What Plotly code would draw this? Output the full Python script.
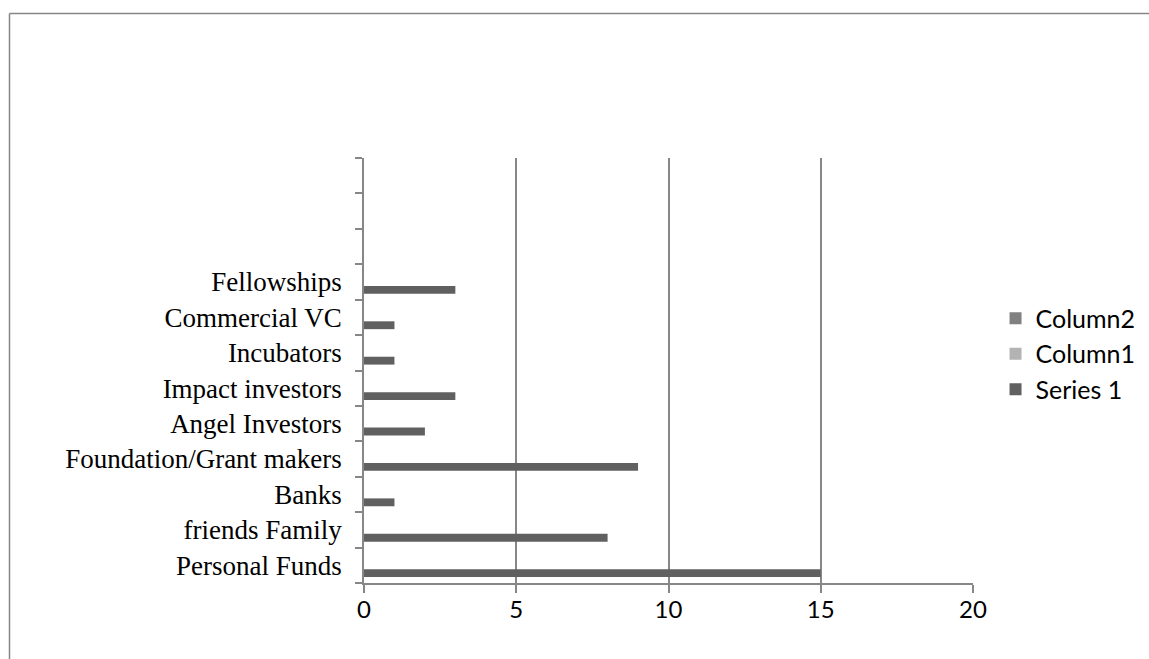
import plotly.graph_objects as go

categories = ["Personal Funds", "friends Family", "Banks", "Foundation/Grant makers",
              "Angel Investors", "Impact investors", "Incubators", "Commercial VC", "Fellowships"]
series1 = [15, 8, 1, 9, 2, 3, 1, 1, 3]
column1 = [None] * len(categories)
column2 = [None] * len(categories)
x_ticks = [0, 5, 10, 15, 20]

positions = list(range(len(categories)))
n_slots = 12  # category slots on the axis (3 empty at the top)

GRID = "#878787"

fig = go.Figure()
fig.add_trace(go.Bar(name="Series 1", y=positions, x=series1, orientation="h",
                     marker=dict(color="#606060", line=dict(width=0)),
                     width=0.222, offset=-0.333))
fig.add_trace(go.Bar(name="Column1", y=positions, x=column1, orientation="h",
                     marker=dict(color="#b3b3b3", line=dict(width=0)),
                     width=0.222, offset=-0.111))
fig.add_trace(go.Bar(name="Column2", y=positions, x=column2, orientation="h",
                     marker=dict(color="#808080", line=dict(width=0)),
                     width=0.222, offset=0.111))

fig.update_layout(
    width=1149, height=659,
    margin=dict(l=364, r=176, t=158, b=76, autoexpand=False),
    paper_bgcolor="white", plot_bgcolor="white",
    barmode="group",
    showlegend=True,
    legend=dict(x=1.037, xanchor="left", y=0.539, yanchor="middle",
                traceorder="reversed",
                font=dict(family="Lato", size=25, color="#000000"),
                bgcolor="rgba(0,0,0,0)"),
    xaxis=dict(range=[0, 20], tickvals=x_ticks, ticktext=[str(v) for v in x_ticks],
               showgrid=True, gridcolor=GRID, gridwidth=1.5,
               zeroline=False, showline=True, linecolor=GRID, linewidth=1.5,
               ticks="outside", ticklen=8, tickcolor=GRID, tickwidth=1.5,
               ticklabelstandoff=-4,
               tickfont=dict(family="Lato", size=24, color="#000000"),
               fixedrange=True),
    yaxis=dict(range=[-0.5, n_slots - 0.5], tickvals=positions, ticktext=categories,
               showgrid=False, zeroline=False, showline=True, linecolor=GRID, linewidth=1.5,
               ticks="", ticklen=0, ticklabelstandoff=15,
               minor=dict(ticks="outside", ticklen=7, tickcolor=GRID, tickwidth=1.5,
                          tick0=-0.5, dtick=1, showgrid=False),
               tickfont=dict(family="Liberation Serif", size=27, color="#000000"),
               fixedrange=True),
    shapes=[
        dict(type="line", xref="paper", yref="paper",
             x0=(9.5 - 364) / 609, x1=(1149 - 364) / 609,
             y0=1 + (158 - 13.5) / 425, y1=1 + (158 - 13.5) / 425,
             line=dict(color=GRID, width=1.5)),
        dict(type="line", xref="paper", yref="paper",
             x0=(9.5 - 364) / 609, x1=(9.5 - 364) / 609,
             y0=1 + (158 - 13.5) / 425, y1=-(659 - 583) / 425,
             line=dict(color=GRID, width=1.5)),
    ],
)

fig.write_html("out.html")
